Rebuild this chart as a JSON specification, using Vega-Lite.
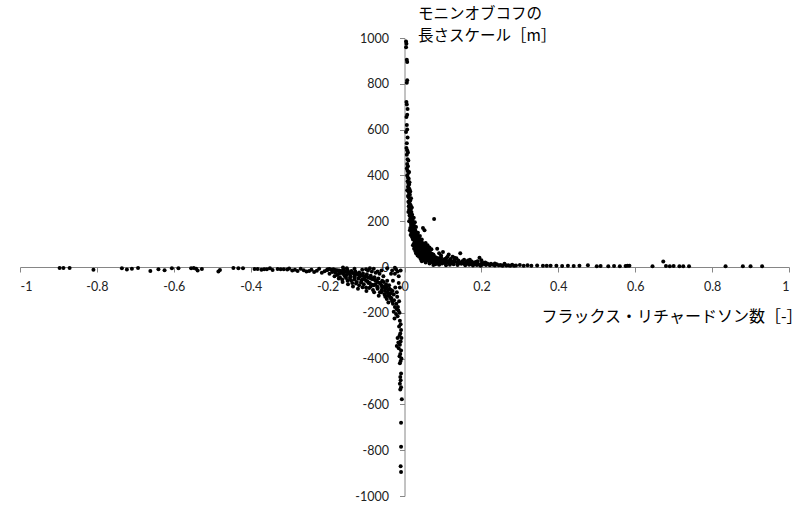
{
  "$schema": "https://vega.github.io/schema/vega-lite/v6.json",
  "width": 769,
  "height": 458,
  "autosize": {"type": "none"},
  "padding": {"left": 20, "top": 38, "right": 14, "bottom": 9},
  "background": "white",
  "config": {"view": {"stroke": null}},
  "data": {"values": [
    {"x":0.004,"y":985},{"x":0.005,"y":975},{"x":0.004,"y":960},{"x":0.006,"y":905},{"x":0.007,"y":895},{"x":0.007,"y":815},{"x":0.006,"y":805},{"x":0.005,"y":720},{"x":0.006,"y":710},{"x":0.008,"y":690},{"x":0.007,"y":665},{"x":0.005,"y":655},{"x":0.006,"y":620},{"x":0.007,"y":600},{"x":0.004,"y":590},{"x":0.008,"y":565},{"x":0.006,"y":540},{"x":0.005,"y":520},{"x":0.007,"y":510},{"x":0.009,"y":500},{"x":0.006,"y":490},{"x":0.008,"y":470},{"x":0.010,"y":465},{"x":0.007,"y":450},{"x":0.009,"y":440},{"x":0.006,"y":430},{"x":0.008,"y":420},{"x":0.010,"y":410},{"x":0.012,"y":415},{"x":0.007,"y":400},{"x":0.009,"y":390},{"x":0.011,"y":385},{"x":0.008,"y":375},{"x":0.010,"y":365},{"x":0.012,"y":360},{"x":0.009,"y":350},{"x":0.011,"y":345},{"x":0.013,"y":340},{"x":0.007,"y":335},{"x":0.010,"y":330},{"x":0.012,"y":320},{"x":0.014,"y":315},{"x":0.009,"y":310},{"x":0.011,"y":305},{"x":0.013,"y":298},{"x":0.015,"y":290},{"x":0.010,"y":285},{"x":0.012,"y":280},{"x":0.014,"y":275},{"x":0.016,"y":270},{"x":0.011,"y":265},{"x":0.013,"y":258},{"x":0.017,"y":255},{"x":0.012,"y":250},{"x":0.015,"y":245},{"x":0.018,"y":240},{"x":0.014,"y":236},{"x":0.016,"y":230},{"x":0.020,"y":228},{"x":0.013,"y":225},{"x":0.017,"y":220},{"x":0.019,"y":215},{"x":0.015,"y":212},{"x":0.021,"y":210},{"x":0.018,"y":205},{"x":0.014,"y":200},{"x":0.022,"y":198},{"x":0.016,"y":195},{"x":0.020,"y":192},{"x":0.024,"y":190},{"x":0.017,"y":185},{"x":0.019,"y":182},{"x":0.023,"y":180},{"x":0.026,"y":178},{"x":0.018,"y":175},{"x":0.021,"y":172},{"x":0.025,"y":170},{"x":0.020,"y":165},{"x":0.023,"y":162},{"x":0.028,"y":160},{"x":0.019,"y":158},{"x":0.022,"y":155},{"x":0.026,"y":152},{"x":0.030,"y":150},{"x":0.021,"y":148},{"x":0.024,"y":145},{"x":0.029,"y":142},{"x":0.033,"y":140},{"x":0.023,"y":138},{"x":0.027,"y":135},{"x":0.031,"y":132},{"x":0.036,"y":130},{"x":0.025,"y":128},{"x":0.029,"y":126},{"x":0.034,"y":124},{"x":0.048,"y":170},{"x":0.052,"y":160},{"x":0.039,"y":122},{"x":0.027,"y":120},{"x":0.032,"y":118},{"x":0.037,"y":116},{"x":0.042,"y":114},{"x":0.030,"y":112},{"x":0.035,"y":110},{"x":0.040,"y":108},{"x":0.046,"y":106},{"x":0.033,"y":104},{"x":0.038,"y":102},{"x":0.044,"y":100},{"x":0.050,"y":98},{"x":0.036,"y":96},{"x":0.041,"y":94},{"x":0.047,"y":92},{"x":0.054,"y":90},{"x":0.039,"y":88},{"x":0.045,"y":86},{"x":0.051,"y":84},{"x":0.058,"y":82},{"x":0.043,"y":80},{"x":0.049,"y":78},{"x":0.055,"y":76},{"x":0.062,"y":74},{"x":0.046,"y":72},{"x":0.052,"y":70},{"x":0.059,"y":68},{"x":0.066,"y":66},{"x":0.050,"y":64},{"x":0.057,"y":62},{"x":0.064,"y":60},{"x":0.071,"y":58},{"x":0.054,"y":56},{"x":0.061,"y":54},{"x":0.068,"y":52},{"x":0.076,"y":50},{"x":0.058,"y":48},{"x":0.066,"y":46},{"x":0.073,"y":44},{"x":0.082,"y":42},{"x":0.063,"y":40},{"x":0.071,"y":38},{"x":0.079,"y":36},{"x":0.088,"y":34},{"x":0.068,"y":32},{"x":0.077,"y":30},{"x":0.086,"y":28},{"x":0.095,"y":26},{"x":0.074,"y":24},{"x":0.084,"y":22},{"x":0.094,"y":20},{"x":0.105,"y":18},{"x":0.080,"y":16},{"x":0.092,"y":14},{"x":0.030,"y":60},{"x":0.034,"y":50},{"x":0.038,"y":45},{"x":0.042,"y":35},{"x":0.025,"y":80},{"x":0.028,"y":70},{"x":0.077,"y":210},{"x":0.075,"y":55},{"x":0.085,"y":80},{"x":0.095,"y":50},{"x":0.100,"y":65},{"x":0.110,"y":40},{"x":0.115,"y":55},{"x":0.120,"y":35},{"x":0.125,"y":45},{"x":0.130,"y":30},{"x":0.135,"y":38},{"x":0.140,"y":28},{"x":0.145,"y":60},{"x":0.150,"y":25},{"x":0.155,"y":32},{"x":0.160,"y":22},{"x":0.165,"y":28},{"x":0.170,"y":20},{"x":0.175,"y":24},{"x":0.180,"y":18},{"x":0.185,"y":22},{"x":0.190,"y":16},{"x":0.195,"y":40},{"x":0.200,"y":14},{"x":0.205,"y":18},{"x":0.210,"y":12},{"x":0.215,"y":15},{"x":0.220,"y":11},{"x":0.225,"y":14},{"x":0.230,"y":10},{"x":0.240,"y":12},{"x":0.250,"y":9},{"x":0.260,"y":11},{"x":0.270,"y":8},{"x":0.280,"y":10},{"x":0.290,"y":7},{"x":0.300,"y":9},{"x":0.310,"y":6},{"x":0.320,"y":8},{"x":0.330,"y":6},{"x":0.345,"y":7},{"x":0.360,"y":5},{"x":0.370,"y":6},{"x":0.380,"y":5},{"x":0.395,"y":6},{"x":0.410,"y":4},{"x":0.425,"y":5},{"x":0.440,"y":4},{"x":0.455,"y":5},{"x":0.477,"y":8},{"x":0.500,"y":3},{"x":0.510,"y":4},{"x":0.530,"y":3},{"x":0.545,"y":4},{"x":0.560,"y":3},{"x":0.575,"y":4},{"x":0.580,"y":6},{"x":0.585,"y":5},{"x":0.645,"y":3},{"x":0.673,"y":24},{"x":0.680,"y":4},{"x":0.690,"y":3},{"x":0.700,"y":4},{"x":0.715,"y":3},{"x":0.725,"y":3},{"x":0.740,"y":3},{"x":0.835,"y":3},{"x":0.880,"y":3},{"x":0.900,"y":3},{"x":0.930,"y":3},
    {"x":0.022,"y":95},{"x":0.026,"y":88},{"x":0.031,"y":78},{"x":0.035,"y":72},{"x":0.040,"y":66},{"x":0.044,"y":60},{"x":0.048,"y":55},{"x":0.053,"y":50},{"x":0.057,"y":45},{"x":0.062,"y":42},{"x":0.067,"y":39},{"x":0.072,"y":35},{"x":0.078,"y":32},{"x":0.083,"y":29},{"x":0.089,"y":27},{"x":0.094,"y":25},{"x":0.100,"y":23},{"x":0.106,"y":21},{"x":0.112,"y":19},{"x":0.118,"y":17},{"x":0.124,"y":16},{"x":0.045,"y":25},{"x":0.050,"y":30},{"x":0.055,"y":20},{"x":0.060,"y":28},{"x":0.065,"y":15},{"x":0.070,"y":22},{"x":0.075,"y":9},{"x":0.080,"y":12},{"x":0.090,"y":10},{"x":0.098,"y":15},{"x":0.108,"y":8},{"x":0.118,"y":10},{"x":0.128,"y":12},{"x":0.138,"y":9},{"x":0.148,"y":14},{"x":0.158,"y":8},{"x":0.168,"y":10},{"x":0.178,"y":7},{"x":0.188,"y":9},{"x":0.198,"y":6},{"x":0.027,"y":110},{"x":0.031,"y":100},{"x":0.036,"y":90},{"x":0.041,"y":82},{"x":0.046,"y":75},{"x":0.052,"y":68},{"x":0.057,"y":60},{"x":0.063,"y":56},{"x":0.069,"y":50},{"x":0.075,"y":46},{"x":0.081,"y":42},{"x":0.088,"y":38},{"x":0.094,"y":34},{"x":0.101,"y":31},{"x":0.108,"y":28},{"x":0.115,"y":26},{"x":0.122,"y":24},{"x":0.130,"y":22},{"x":0.138,"y":20},{"x":0.146,"y":18},{"x":0.154,"y":16},{"x":0.162,"y":15},{"x":0.172,"y":13},{"x":0.182,"y":12},{"x":0.192,"y":11},{"x":0.202,"y":10},{"x":0.212,"y":9},{"x":0.222,"y":8},{"x":0.235,"y":7},{"x":0.245,"y":8},{"x":0.255,"y":6},{"x":0.265,"y":7},{"x":0.275,"y":5},{"x":0.285,"y":6},
    {"x":0.010,"y":240},{"x":0.012,"y":200},{"x":0.015,"y":170},{"x":0.018,"y":150},{"x":0.020,"y":130},{"x":0.014,"y":160},{"x":0.016,"y":140},{"x":0.022,"y":120},{"x":0.024,"y":100},{"x":0.026,"y":105},{"x":0.028,"y":95},{"x":0.030,"y":85},{"x":0.033,"y":75},{"x":0.035,"y":65},{"x":0.037,"y":58},{"x":0.040,"y":52},{"x":0.043,"y":48},{"x":0.047,"y":42},{"x":0.052,"y":38},{"x":0.056,"y":35},{"x":0.061,"y":32},{"x":0.065,"y":28},{"x":0.070,"y":26},{"x":0.074,"y":20},{"x":0.079,"y":18},{"x":0.085,"y":15},{"x":0.060,"y":95},{"x":0.065,"y":85},{"x":0.070,"y":78},{"x":0.055,"y":105},{"x":0.045,"y":120},{"x":0.040,"y":135},{"x":0.035,"y":150},{"x":0.030,"y":175},{"x":0.027,"y":195},{"x":0.024,"y":215},{"x":0.019,"y":260},{"x":0.017,"y":300},{"x":0.015,"y":330},{"x":0.013,"y":370},{"x":0.120,"y":28},{"x":0.130,"y":40},{"x":0.140,"y":15},{"x":0.150,"y":20},{"x":0.105,"y":35},{"x":0.112,"y":45},{"x":0.090,"y":60},{"x":0.095,"y":42},{"x":0.170,"y":32},{"x":0.190,"y":25},{"x":0.210,"y":20},{"x":0.235,"y":15},{"x":0.260,"y":14},{"x":0.200,"y":30},
    {"x":-0.012,"y":-235},{"x":-0.010,"y":-250},{"x":-0.014,"y":-260},{"x":-0.009,"y":-275},{"x":-0.011,"y":-290},{"x":-0.013,"y":-300},{"x":-0.008,"y":-310},{"x":-0.010,"y":-325},{"x":-0.012,"y":-340},{"x":-0.015,"y":-355},{"x":-0.009,"y":-365},{"x":-0.011,"y":-380},{"x":-0.013,"y":-390},{"x":-0.008,"y":-400},{"x":-0.010,"y":-410},{"x":-0.012,"y":-420},{"x":-0.009,"y":-465},{"x":-0.011,"y":-480},{"x":-0.010,"y":-495},{"x":-0.012,"y":-510},{"x":-0.009,"y":-525},{"x":-0.011,"y":-535},{"x":-0.007,"y":-578},{"x":-0.009,"y":-680},{"x":-0.009,"y":-785},{"x":-0.010,"y":-870},{"x":-0.009,"y":-895},{"x":-0.020,"y":-345},{"x":-0.016,"y":-330},{"x":-0.018,"y":-310},
    {"x":-0.030,"y":-160},{"x":-0.025,"y":-175},{"x":-0.020,"y":-185},{"x":-0.028,"y":-195},{"x":-0.022,"y":-205},{"x":-0.018,"y":-215},{"x":-0.026,"y":-225},{"x":-0.016,"y":-190},{"x":-0.035,"y":-140},{"x":-0.032,"y":-150},{"x":-0.040,"y":-120},{"x":-0.038,"y":-130},{"x":-0.045,"y":-110},{"x":-0.050,"y":-95},{"x":-0.042,"y":-100},{"x":-0.055,"y":-85},{"x":-0.060,"y":-80},{"x":-0.048,"y":-75},{"x":-0.065,"y":-70},{"x":-0.070,"y":-65},{"x":-0.058,"y":-60},{"x":-0.075,"y":-60},{"x":-0.080,"y":-55},{"x":-0.068,"y":-50},{"x":-0.085,"y":-52},{"x":-0.090,"y":-48},{"x":-0.078,"y":-45},{"x":-0.095,"y":-45},{"x":-0.100,"y":-42},{"x":-0.088,"y":-38},{"x":-0.105,"y":-40},{"x":-0.110,"y":-38},{"x":-0.098,"y":-32},{"x":-0.115,"y":-35},{"x":-0.120,"y":-33},{"x":-0.108,"y":-28},{"x":-0.125,"y":-30},{"x":-0.130,"y":-28},{"x":-0.118,"y":-24},{"x":-0.135,"y":-26},{"x":-0.140,"y":-25},{"x":-0.128,"y":-20},{"x":-0.145,"y":-23},{"x":-0.150,"y":-22},{"x":-0.138,"y":-18},{"x":-0.155,"y":-20},{"x":-0.160,"y":-18},{"x":-0.148,"y":-14},{"x":-0.165,"y":-17},{"x":-0.170,"y":-15},{"x":-0.158,"y":-12},{"x":-0.175,"y":-14},{"x":-0.180,"y":-13},{"x":-0.185,"y":-10},{"x":-0.190,"y":-12},{"x":-0.195,"y":-9},{"x":-0.200,"y":-10},{"x":-0.160,"y":-2},{"x":-0.030,"y":-60},{"x":-0.025,"y":-30},{"x":-0.018,"y":-20},{"x":-0.040,"y":-80},{"x":-0.035,"y":-100},{"x":-0.015,"y":-70},{"x":-0.020,"y":-110},{"x":-0.028,"y":-120},{"x":-0.012,"y":-90},{"x":-0.045,"y":-60},{"x":-0.055,"y":-40},{"x":-0.065,"y":-30},{"x":-0.075,"y":-25},{"x":-0.085,"y":-20},{"x":-0.095,"y":-15},{"x":-0.050,"y":-130},{"x":-0.060,"y":-110},{"x":-0.070,"y":-90},{"x":-0.080,"y":-80},{"x":-0.090,"y":-70},{"x":-0.100,"y":-60},{"x":-0.110,"y":-55},{"x":-0.120,"y":-50},{"x":-0.130,"y":-45},{"x":-0.140,"y":-40},{"x":-0.150,"y":-35},{"x":-0.160,"y":-30},{"x":-0.170,"y":-28},{"x":-0.180,"y":-25},{"x":-0.022,"y":-10},{"x":-0.032,"y":-15},
    {"x":-0.175,"y":-35},{"x":-0.168,"y":-45},{"x":-0.162,"y":-55},{"x":-0.155,"y":-40},{"x":-0.148,"y":-60},{"x":-0.142,"y":-48},{"x":-0.136,"y":-70},{"x":-0.130,"y":-55},{"x":-0.124,"y":-65},{"x":-0.118,"y":-80},{"x":-0.112,"y":-60},{"x":-0.106,"y":-75},{"x":-0.100,"y":-90},{"x":-0.094,"y":-70},{"x":-0.088,"y":-85},{"x":-0.082,"y":-100},{"x":-0.076,"y":-75},{"x":-0.070,"y":-95},{"x":-0.064,"y":-110},{"x":-0.058,"y":-90},{"x":-0.052,"y":-120},{"x":-0.046,"y":-140},{"x":-0.042,"y":-155},{"x":-0.036,"y":-115},{"x":-0.100,"y":-10},{"x":-0.080,"y":-8},{"x":-0.060,"y":-15},{"x":-0.045,"y":-5},{"x":-0.025,"y":-3},
    {"x":-0.195,"y":-30},{"x":-0.188,"y":-22},{"x":-0.182,"y":-40},{"x":-0.176,"y":-18},{"x":-0.171,"y":-50},{"x":-0.166,"y":-25},{"x":-0.161,"y":-65},{"x":-0.157,"y":-33},{"x":-0.152,"y":-48},{"x":-0.147,"y":-75},{"x":-0.143,"y":-30},{"x":-0.139,"y":-58},{"x":-0.134,"y":-85},{"x":-0.129,"y":-38},{"x":-0.126,"y":-72},{"x":-0.121,"y":-95},{"x":-0.117,"y":-42},{"x":-0.113,"y":-68},{"x":-0.109,"y":-88},{"x":-0.104,"y":-52},{"x":-0.099,"y":-105},{"x":-0.096,"y":-62},{"x":-0.092,"y":-92},{"x":-0.087,"y":-45},{"x":-0.084,"y":-78},{"x":-0.079,"y":-110},{"x":-0.074,"y":-58},{"x":-0.071,"y":-85},{"x":-0.067,"y":-125},{"x":-0.063,"y":-70},{"x":-0.059,"y":-100},{"x":-0.054,"y":-65},{"x":-0.051,"y":-105},{"x":-0.047,"y":-88},{"x":-0.044,"y":-125},{"x":-0.039,"y":-95},{"x":-0.034,"y":-135},{"x":-0.031,"y":-105},{"x":-0.027,"y":-145},{"x":-0.024,"y":-90},{"x":-0.021,"y":-160},{"x":-0.019,"y":-130},{"x":-0.017,"y":-175},{"x":-0.014,"y":-150},{"x":-0.013,"y":-200},{"x":-0.150,"y":-5},{"x":-0.130,"y":-8},{"x":-0.110,"y":-12},{"x":-0.090,"y":-5},{"x":-0.070,"y":-20},{"x":-0.035,"y":-30},{"x":-0.015,"y":-40},{"x":-0.010,"y":-15},
    {"x":-0.897,"y":-4},{"x":-0.887,"y":-4},{"x":-0.871,"y":-4},{"x":-0.809,"y":-12},{"x":-0.735,"y":-5},{"x":-0.722,"y":-11},{"x":-0.709,"y":-8},{"x":-0.693,"y":-4},{"x":-0.661,"y":-18},{"x":-0.640,"y":-10},{"x":-0.624,"y":-14},{"x":-0.605,"y":-6},{"x":-0.588,"y":-6},{"x":-0.555,"y":-6},{"x":-0.548,"y":-4},{"x":-0.542,"y":-8},{"x":-0.538,"y":-15},{"x":-0.527,"y":-9},{"x":-0.484,"y":-20},{"x":-0.480,"y":-13},{"x":-0.445,"y":-4},{"x":-0.432,"y":-6},{"x":-0.420,"y":-5},{"x":-0.390,"y":-9},{"x":-0.382,"y":-9},{"x":-0.372,"y":-12},{"x":-0.365,"y":-10},{"x":-0.358,"y":-10},{"x":-0.350,"y":-5},{"x":-0.343,"y":-13},{"x":-0.330,"y":-9},{"x":-0.322,"y":-10},{"x":-0.314,"y":-10},{"x":-0.305,"y":-11},{"x":-0.300,"y":-7},{"x":-0.292,"y":-15},{"x":-0.285,"y":-12},{"x":-0.278,"y":-17},{"x":-0.270,"y":-8},{"x":-0.262,"y":-14},{"x":-0.255,"y":-20},{"x":-0.248,"y":-18},{"x":-0.242,"y":-12},{"x":-0.235,"y":-22},{"x":-0.228,"y":-16},{"x":-0.222,"y":-8},{"x":-0.215,"y":-25},{"x":-0.208,"y":-19},{"x":-0.202,"y":-14}
  ]},
  "mark": {"type": "circle", "size": 16, "color": "black", "opacity": 1},
  "encoding": {
    "x": {
      "field": "x", "type": "quantitative",
      "scale": {"domain": [-1, 1], "nice": false, "zero": false},
      "axis": {
        "orient": "bottom",
        "offset": {"expr": "-height/2"},
        "values": [-1, -0.8, -0.6, -0.4, -0.2, 0, 0.2, 0.4, 0.6, 0.8, 1],
        "labelExpr": "'' + datum.value",
        "grid": false,
        "domainColor": "#868686", "tickColor": "#868686", "tickSize": 5,
        "labelFont": "Lato", "labelFontSize": 12.5, "labelColor": "#222",
        "labelPadding": 8, "labelOverlap": false,
        "title": "フラックス・リチャードソン数［-］",
        "titleFont": "Noto Sans CJK JP", "titleFontSize": 16, "titleFontWeight": "normal", "titleColor": "black",
        "titleAnchor": null, "titleAlign": "right", "titleBaseline": "top",
        "titleX": 782, "titleY": 41
      }
    },
    "y": {
      "field": "y", "type": "quantitative",
      "scale": {"domain": [-1000, 1000], "nice": false, "zero": false},
      "axis": {
        "orient": "left",
        "offset": {"expr": "-width/2"},
        "values": [-1000, -800, -600, -400, -200, 0, 200, 400, 600, 800, 1000],
        "labelExpr": "'' + datum.value",
        "grid": false,
        "domainColor": "#868686", "tickColor": "#868686", "tickSize": 5,
        "labelFont": "Lato", "labelFontSize": 12.5, "labelColor": "#222",
        "labelPadding": 11, "labelOverlap": false,
        "title": ["モニンオブコフの", "長さスケール［m］"],
        "titleFont": "Noto Sans CJK JP", "titleFontSize": 15.5, "titleFontWeight": "normal", "titleColor": "black",
        "titleAngle": 0, "titleAnchor": null, "titleAlign": "left", "titleBaseline": "top",
        "titleLineHeight": 22,
        "titleX": 13, "titleY": -32
      }
    }
  }
}
